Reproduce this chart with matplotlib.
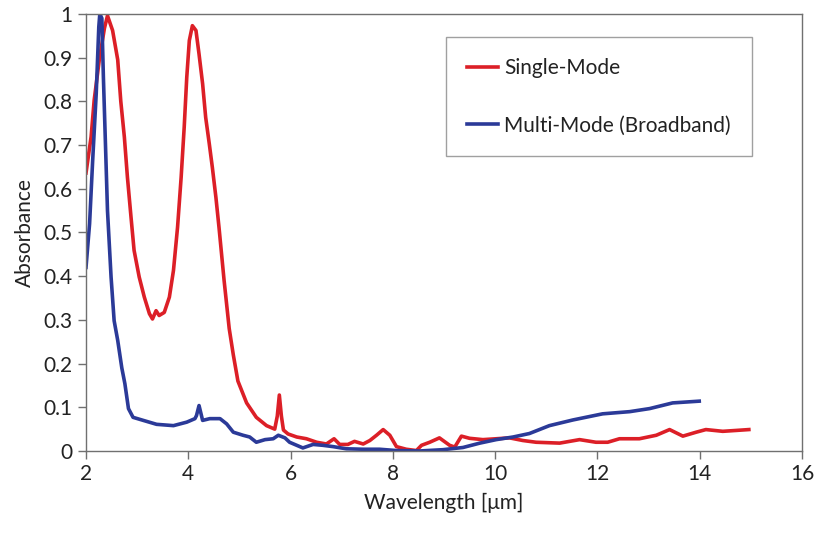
import matplotlib
matplotlib.use('Agg')
import matplotlib.pyplot as plt
from matplotlib.ticker import FuncFormatter

# -------------------- Data --------------------

# Single-Mode (red)
wl_single = [2.00, 2.10, 2.16, 2.26, 2.36, 2.42, 2.52, 2.62, 2.68, 2.75, 2.81, 2.88,
             2.94, 3.04, 3.14, 3.24, 3.30, 3.37, 3.43, 3.53, 3.63, 3.71, 3.79, 3.86,
             3.92, 3.97, 4.02, 4.08, 4.15, 4.21, 4.28, 4.34, 4.41, 4.47, 4.54, 4.60,
             4.70, 4.80, 4.88, 4.97, 5.14, 5.33, 5.53, 5.69, 5.74, 5.78, 5.82, 5.86,
             5.95, 6.12, 6.31, 6.51, 6.70, 6.85, 6.96, 7.12, 7.25, 7.42, 7.55, 7.68,
             7.81, 7.94, 8.07, 8.26, 8.46, 8.56, 8.72, 8.91, 9.11, 9.21, 9.34, 9.50,
             9.76, 10.02, 10.28, 10.54, 10.80, 11.26, 11.65, 11.97, 12.20, 12.43,
             12.82, 13.15, 13.41, 13.67, 13.93, 14.12, 14.45, 14.71, 14.96]
abs_single = [0.636, 0.719, 0.803, 0.895, 0.967, 0.996, 0.962, 0.895, 0.800, 0.718, 0.626, 0.535,
              0.459, 0.398, 0.352, 0.314, 0.302, 0.321, 0.310, 0.317, 0.352, 0.413, 0.512, 0.626,
              0.741, 0.855, 0.939, 0.973, 0.962, 0.908, 0.840, 0.763, 0.703, 0.649, 0.580, 0.512,
              0.390, 0.280, 0.220, 0.160, 0.110, 0.077, 0.058, 0.050, 0.080, 0.128, 0.080, 0.048,
              0.039, 0.032, 0.028, 0.020, 0.016, 0.028, 0.015, 0.015, 0.022, 0.016, 0.024, 0.036,
              0.049, 0.036, 0.010, 0.004, 0.001, 0.013, 0.020, 0.030, 0.013, 0.009, 0.034, 0.029,
              0.026, 0.028, 0.030, 0.024, 0.020, 0.018, 0.026, 0.020, 0.020, 0.028,
              0.028, 0.036, 0.049, 0.034, 0.043, 0.049, 0.045, 0.047, 0.049]

# Multi-Mode (Broadband) (blue)
wl_multi = [2.00, 2.07, 2.13, 2.20, 2.25, 2.27, 2.31, 2.34, 2.38, 2.42, 2.49, 2.55,
            2.62, 2.70, 2.76, 2.83, 2.92, 3.12, 3.38, 3.71, 3.97, 4.13, 4.16, 4.21,
            4.28, 4.42, 4.62, 4.75, 4.88, 5.07, 5.20, 5.33, 5.50, 5.66, 5.76, 5.89,
            5.98, 6.12, 6.24, 6.44, 6.63, 6.83, 7.09, 7.42, 7.74, 8.07, 8.52, 8.98,
            9.37, 9.70, 10.02, 10.35, 10.67, 11.06, 11.52, 12.10, 12.63, 13.02, 13.47,
            13.73, 13.99]
abs_multi = [0.420, 0.520, 0.664, 0.818, 0.970, 1.000, 0.990, 0.855, 0.703, 0.550, 0.398, 0.298,
             0.253, 0.190, 0.154, 0.097, 0.077, 0.070, 0.061, 0.058, 0.066, 0.074, 0.081, 0.104,
             0.070, 0.074, 0.074, 0.062, 0.043, 0.036, 0.032, 0.020, 0.026, 0.028, 0.036, 0.030,
             0.020, 0.013, 0.007, 0.015, 0.013, 0.010, 0.005, 0.004, 0.004, 0.001, 0.000, 0.003,
             0.008, 0.018, 0.026, 0.032, 0.040, 0.058, 0.071, 0.085, 0.090, 0.097, 0.110,
             0.112, 0.114]

x_ticks = [2, 4, 6, 8, 10, 12, 14, 16]
y_ticks = [0, 0.1, 0.2, 0.3, 0.4, 0.5, 0.6, 0.7, 0.8, 0.9, 1.0]

# -------------------- Plot --------------------

plt.rcParams['font.family'] = ['Lato', 'DejaVu Sans']
plt.rcParams['font.size'] = 15

fig = plt.figure(figsize=(8.16, 5.36), dpi=100)
ax = fig.add_axes([0.1054, 0.1586, 0.8775, 0.8155])

ax.plot(wl_single, abs_single, color='#dc1f27', lw=2.6, label='Single-Mode')
ax.plot(wl_multi, abs_multi, color='#2b3a98', lw=2.6, label='Multi-Mode (Broadband)')

ax.set_xlim(2, 16)
ax.set_ylim(0, 1)
ax.set_xticks(x_ticks)
ax.set_yticks(y_ticks)
ax.yaxis.set_major_formatter(FuncFormatter(lambda v, p: '%g' % v))
ax.tick_params(direction='out', length=6, width=1, color='#707070',
               labelcolor='#222222', labelsize=15)

for s in ax.spines.values():
    s.set_color('#707070')
    s.set_linewidth(1.0)

ax.set_xlabel('Wavelength [μm]', fontsize=15, color='#222222', labelpad=6)
ax.set_ylabel('Absorbance', fontsize=15, color='#222222', labelpad=6)

leg = ax.legend(loc='upper right', bbox_to_anchor=(0.930, 0.947), borderaxespad=0,
                fancybox=False, frameon=True, fontsize=15, labelspacing=1.8,
                borderpad=1.0, handlelength=1.5, handletextpad=0.3)
leg.get_frame().set_edgecolor('#888888')
leg.get_frame().set_linewidth(1.0)
for t in leg.get_texts():
    t.set_color('#222222')

fig.savefig('out.png', dpi=100)
